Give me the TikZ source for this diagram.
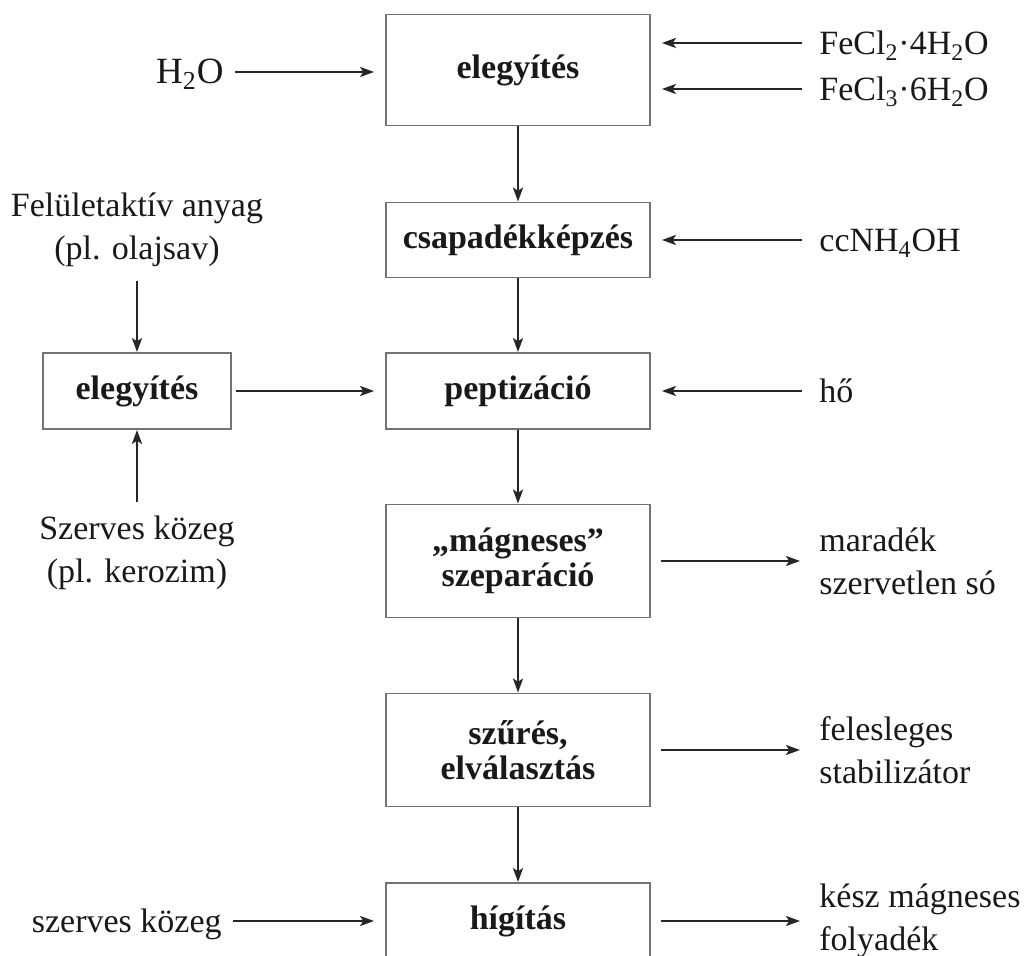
\documentclass[tikz,border=0pt]{standalone}
\usepackage{fontspec}
\setmainfont{Liberation Serif}
\usetikzlibrary{positioning,arrows.meta}

\begin{document}
\begin{tikzpicture}[x=0.5pt,y=-0.5pt,node distance=85pt,on grid,
    >={Stealth[length=7pt,width=5pt,inset=1.6pt]},
    every edge/.style={draw=black!85,line width=1.1pt},
    proc/.style={draw=black!55,line width=0.9pt,minimum width=132pt,align=center,
      text=black!90,font=\fontsize{17}{17.5}\selectfont\bfseries},
    side/.style={inner sep=0pt,align=center,text=black!90,
      font=\fontsize{17}{21.5}\selectfont},
    lbl/.style={side,text height=12pt,text depth=0pt}]
    \useasboundingbox (0,0) rectangle (1024,956);
    % main line
    \node[proc,minimum height=55.5pt] (p_mix) at (518,70) {elegyítés};
    \node[proc,minimum height=37.5pt] (p_prec) [below=of p_mix] {csapadékképzés};
    \node[proc,minimum height=38pt] (p_pept) [below=75.5pt of p_prec] {peptizáció};
    \node[proc,minimum height=56.5pt] (p_sep) [below=of p_pept] {„mágneses”\\szeparáció};
    \node[proc,minimum height=56.5pt] (p_filt) [below=94.5pt of p_sep] {szűrés,\\elválasztás};
    \node[proc,minimum height=38pt] (p_dil) [below=85.5pt of p_filt] {hígítás};
    % side line
    \node[proc,minimum width=94pt,minimum height=38pt] (p_mix2) [left=190.5pt of p_pept] {elegyítés};
    \node[side] (in_surf) [above=80.5pt of p_mix2] {Felületaktív anyag\\(pl. olajsav)};
    \node[side] (in_org) [below=81pt of p_mix2] {Szerves közeg\\(pl. kerozim)};
    % inputs and outputs
    \node[lbl,anchor=east] (in_water) at (224,72) {\fontsize{18.5}{20}\selectfont H\textsubscript{2}O};
    \node[lbl,anchor=west] (in_fe2) at (819,43) {FeCl\textsubscript{2}·4H\textsubscript{2}O};
    \node[lbl,anchor=west] (in_fe3) at (819,89) {FeCl\textsubscript{3}·6H\textsubscript{2}O};
    \node[lbl,anchor=west] (in_nh) at (819,240) {ccNH\textsubscript{4}OH};
    \node[lbl,anchor=west] (in_heat) at (819,391) {hő};
    \node[side,align=left,anchor=west] (out_salt) at (819,561) {maradék\\szervetlen só};
    \node[side,align=left,anchor=west] (out_stab) at (819,750) {felesleges\\stabilizátor};
    \node[lbl,anchor=east] (in_org2) at (222,921) {szerves közeg};
    \node[side,align=left,anchor=west] (out_fluid) at (819,921) {kész mágneses\\folyadék};
    \path[->]
    (p_mix) edge (p_prec)
    (p_prec) edge (p_pept)
    (p_pept) edge (p_sep)
    (p_sep) edge (p_filt)
    (p_filt) edge (p_dil)
    (in_surf) edge [shorten <=7pt] (p_mix2)
    (in_org) edge [shorten <=7pt] (p_mix2)
    (p_mix2) edge [shorten <=2pt,shorten >=5.5pt] (p_pept)
    (in_water) edge [shorten <=5.5pt,shorten >=5.5pt] (in_water -| p_mix.west)
    (in_fe2) edge [shorten <=8.5pt,shorten >=5.5pt] (in_fe2 -| p_mix.east)
    (in_fe3) edge [shorten <=8.5pt,shorten >=5.5pt] (in_fe3 -| p_mix.east)
    (in_nh) edge [shorten <=8.5pt,shorten >=5.5pt] (p_prec)
    (in_heat) edge [shorten <=8.5pt,shorten >=5.5pt] (p_pept)
    (p_sep) edge [shorten <=5pt,shorten >=9.5pt] (out_salt)
    (p_filt) edge [shorten <=5pt,shorten >=9.5pt] (out_stab)
    (in_org2) edge [shorten <=5.5pt,shorten >=5.5pt] (p_dil)
    (p_dil) edge [shorten <=5pt,shorten >=9.5pt] (out_fluid)
    ; %end path
\end{tikzpicture}
\end{document}
